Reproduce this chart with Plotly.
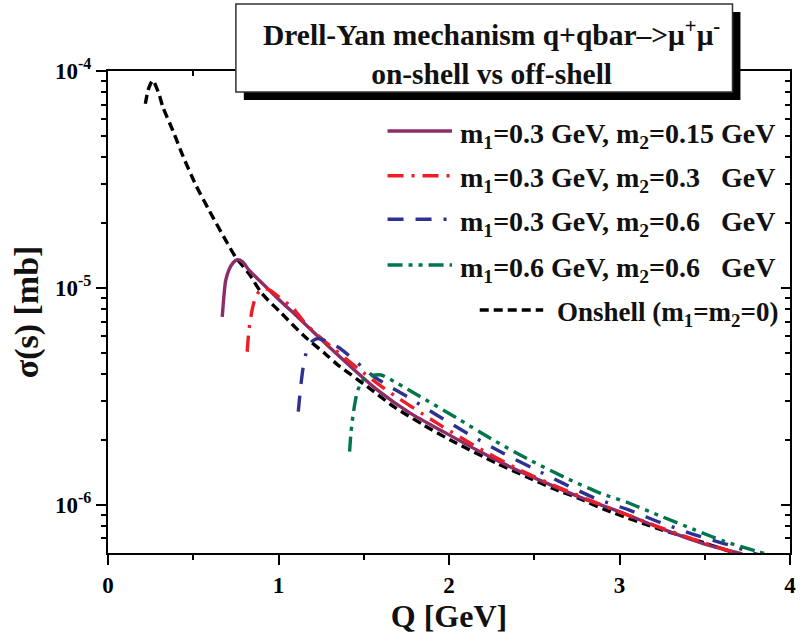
import math
import plotly.graph_objects as go

# ---------------- data ----------------
onshell_q = [0.219, 0.238, 0.263, 0.300, 0.322, 0.380, 0.438, 0.516, 0.593, 0.690, 0.748,
             0.826, 0.903, 1.019, 1.155, 1.272, 1.349, 1.523, 1.678, 1.853, 2.008, 2.279,
             2.453, 2.609, 2.763, 2.919, 3.248, 3.442, 3.674, 3.750]
onshell_s = [7.06e-5, 8.3e-5, 9.04e-5, 7.78e-5, 6.81e-5, 5.32e-5, 4.08e-5, 2.97e-5, 2.28e-5,
             1.66e-5, 1.39e-5, 1.165e-5, 9.42e-6, 7.62e-6, 5.95e-6, 4.99e-6, 4.41e-6, 3.50e-6,
             2.83e-6, 2.33e-6, 1.99e-6, 1.556e-6, 1.35e-6, 1.19e-6, 1.07e-6, 9.48e-7, 7.67e-7,
             6.9e-7, 6.01e-7, 5.8e-7]

m03_015_q = [0.670, 0.680, 0.690, 0.709, 0.735, 0.758, 0.790, 0.826, 0.903, 1.039, 1.097,
             1.291, 1.581, 1.775, 1.969, 2.163, 2.357, 2.551, 2.800, 3.000, 3.250, 3.500, 3.720]
m03_015_s = [7.35e-6, 9.2e-6, 1.08e-5, 1.21e-5, 1.31e-5, 1.35e-5, 1.32e-5, 1.21e-5, 1.054e-5,
             8.3e-6, 7.55e-6, 5.40e-6, 3.38e-6, 2.64e-6, 2.17e-6, 1.79e-6, 1.50e-6, 1.28e-6,
             1.06e-6, 9.3e-7, 7.75e-7, 6.6e-7, 5.95e-7]

m03_03_q = [0.816, 0.828, 0.845, 0.860, 0.884, 0.913, 0.950, 0.990, 1.087, 1.155, 1.252,
            1.465, 1.620, 1.930, 2.163, 2.395, 2.609, 2.919, 3.248, 3.500, 3.674, 3.750]
m03_03_s = [5.08e-6, 6.5e-6, 7.9e-6, 8.78e-6, 9.59e-6, 9.94e-6, 9.75e-6, 9.25e-6, 8.04e-6,
            6.9e-6, 5.85e-6, 4.26e-6, 3.44e-6, 2.38e-6, 1.85e-6, 1.475e-6, 1.236e-6, 9.82e-7,
            7.82e-7, 6.67e-7, 6.04e-7, 5.8e-7]

m03_06_q = [1.116, 1.130, 1.145, 1.160, 1.174, 1.200, 1.233, 1.349, 1.562, 1.756, 1.930,
            2.124, 2.318, 2.492, 2.667, 2.860, 3.054, 3.248, 3.442, 3.636, 3.771, 3.850]
m03_06_s = [2.69e-6, 3.5e-6, 4.33e-6, 4.95e-6, 5.35e-6, 5.7e-6, 5.85e-6, 5.34e-6, 3.89e-6,
            3.15e-6, 2.59e-6, 2.10e-6, 1.73e-6, 1.475e-6, 1.26e-6, 1.07e-6, 9.48e-7, 8.24e-7,
            7.28e-7, 6.55e-7, 6.04e-7, 5.8e-7]

m06_06_q = [1.417, 1.425, 1.436, 1.450, 1.465, 1.504, 1.550, 1.601, 1.698, 1.833, 2.047,
            2.260, 2.473, 2.686, 2.890, 3.054, 3.248, 3.442, 3.616, 3.810, 3.900]
m06_06_s = [1.76e-6, 2.15e-6, 2.55e-6, 3.0e-6, 3.38e-6, 3.83e-6, 3.95e-6, 3.97e-6, 3.63e-6,
            3.15e-6, 2.51e-6, 1.99e-6, 1.61e-6, 1.33e-6, 1.13e-6, 1.02e-6, 8.83e-7, 7.67e-7,
            6.78e-7, 6.10e-7, 5.8e-7]

legend_labels = [
    "m<sub>1</sub>=0.3 GeV, m<sub>2</sub>=0.15 GeV",
    "m<sub>1</sub>=0.3 GeV, m<sub>2</sub>=0.3\u00a0\u00a0\u00a0GeV",
    "m<sub>1</sub>=0.3 GeV, m<sub>2</sub>=0.6\u00a0\u00a0\u00a0GeV",
    "m<sub>1</sub>=0.6 GeV, m<sub>2</sub>=0.6\u00a0\u00a0\u00a0GeV",
    "Onshell (m<sub>1</sub>=m<sub>2</sub>=0)",
]
x_tickvals = [0, 1, 2, 3, 4]
x_ticktext = ["0", "1", "2", "3", "4"]
y_tickvals = [1e-6, 1e-5, 1e-4]
y_ticktext = ["10<sup>-6</sup>", "10<sup>-5</sup>", "10<sup>-4</sup>"]
y_minor = [7e-7, 8e-7, 9e-7] + [k * 1e-6 for k in range(2, 10)] + [k * 1e-5 for k in range(2, 10)]
title_text = "Drell-Yan mechanism q+qbar\u2013>\u03bc<sup>+</sup>\u03bc<sup>-</sup><br>on-shell vs off-shell"
x_title = "Q [GeV]"
y_title = "\u03c3(s) [mb]"

# ---------------- styling ----------------
FONT = "Liberation Serif"
C_PURPLE = "#8C2C68"
C_RED = "#EE1D25"
C_BLUE = "#2E3192"
C_GREEN = "#00764A"
C_BLACK = "#000000"
D_BLACK = "9px,5px"
D_RED = "16px,8px,3px,8px"
D_BLUE = "16px,12px,16px,12px,3px,12px"
D_GREEN = "15px,6px,4px,6px,4px,6px"
LW = 3.4

FIG_W, FIG_H = 802, 642
L, R, T, B = 108, 796, 71, 553
W, H = R - L, B - T


def px(x):
    return (x - L) / W


def py(y):
    return (B - y) / H


series = [
    (legend_labels[4], onshell_q, onshell_s, C_BLACK, D_BLACK),
    (legend_labels[0], m03_015_q, m03_015_s, C_PURPLE, "solid"),
    (legend_labels[1], m03_03_q, m03_03_s, C_RED, D_RED),
    (legend_labels[2], m03_06_q, m03_06_s, C_BLUE, D_BLUE),
    (legend_labels[3], m06_06_q, m06_06_s, C_GREEN, D_GREEN),
]

fig = go.Figure()
for name, q, s, col, dash in series:
    fig.add_trace(go.Scatter(x=q, y=s, mode="lines", name=name, showlegend=False,
                             line=dict(color=col, width=LW, dash=dash, shape="spline", smoothing=0.7)))

# helper (empty) traces so that the mirrored top / right axes are drawn
fig.add_trace(go.Scatter(x=[None], y=[None], xaxis="x2", yaxis="y", showlegend=False, hoverinfo="skip"))
fig.add_trace(go.Scatter(x=[None], y=[None], xaxis="x", yaxis="y2", showlegend=False, hoverinfo="skip"))

yrange = [math.log10(6.0e-7), -4]
tickfont = dict(family=FONT, size=23, color="black", weight="bold")

fig.update_layout(
    width=FIG_W, height=FIG_H, autosize=False,
    margin=dict(l=L, r=FIG_W - R, t=T, b=FIG_H - B),
    paper_bgcolor="white", plot_bgcolor="white",
    xaxis=dict(range=[0, 4], showgrid=False, zeroline=False, showline=True, linecolor="black",
               linewidth=2, ticks="outside", ticklen=10, tickwidth=2, tickcolor="black",
               tickmode="array", tickvals=x_tickvals, ticktext=x_ticktext, tickfont=tickfont,
               ticklabeloverflow="allow",
               minor=dict(ticks="outside", ticklen=5, tickwidth=2, tickcolor="black", dtick=0.5, tick0=0),
               title=dict(text=x_title, font=dict(family=FONT, size=32, color="#111111", weight="bold"),
                          standoff=6)),
    xaxis2=dict(range=[0, 4], overlaying="x", anchor="y", side="top", showgrid=False, zeroline=False,
                showline=True, linecolor="black", linewidth=2, ticks="inside", ticklen=6, tickwidth=1.5,
                tickcolor="black", tick0=0, dtick=1, showticklabels=False,
                minor=dict(ticks="inside", ticklen=5, tickwidth=1.5, tickcolor="black", dtick=0.5, tick0=0)),
    yaxis=dict(type="log", range=yrange, showgrid=False, zeroline=False, showline=True, linecolor="black",
               linewidth=2, ticks="outside", ticklen=10, tickwidth=2, tickcolor="black",
               tickmode="array", tickvals=y_tickvals, ticktext=y_ticktext, tickfont=tickfont,
               ticklabeloverflow="allow",
               minor=dict(ticks="outside", ticklen=5, tickwidth=2, tickcolor="black",
                          tickmode="array", tickvals=y_minor),
               title=dict(text=y_title, font=dict(family=FONT, size=34, color="#111111", weight="bold"),
                          standoff=6)),
    yaxis2=dict(type="log", range=yrange, overlaying="y", anchor="x", side="right", showgrid=False,
                zeroline=False, showline=True, linecolor="black", linewidth=2, ticks="inside",
                ticklen=9, tickwidth=1.5, tickcolor="black", tickmode="array", tickvals=y_tickvals,
                showticklabels=False,
                minor=dict(ticks="inside", ticklen=5, tickwidth=1.5, tickcolor="black",
                           tickmode="array", tickvals=y_minor)),
)

shapes = []
# title box with drop shadow
shapes.append(dict(type="rect", xref="paper", yref="paper", x0=px(245), x1=px(746), y0=py(100), y1=py(12),
                   fillcolor="black", line=dict(width=0), layer="above"))
shapes.append(dict(type="rect", xref="paper", yref="paper", x0=px(237), x1=px(738), y0=py(92), y1=py(4),
                   fillcolor="white", line=dict(color="#333333", width=1.5), layer="above"))

# legend samples
leg_rows = [131, 175.7, 219.3, 265, 310]
leg_style = [(C_PURPLE, "solid"), (C_RED, D_RED), (C_BLUE, D_BLUE), (C_GREEN, D_GREEN), (C_BLACK, D_BLACK)]
for i, (ry, (col, dash)) in enumerate(zip(leg_rows, leg_style)):
    x0, x1 = (390, 455) if i < 4 else (483, 547)
    shapes.append(dict(type="line", xref="paper", yref="paper", x0=px(x0), x1=px(x1), y0=py(ry), y1=py(ry),
                       line=dict(color=col, width=LW, dash=dash), layer="above"))
fig.update_layout(shapes=shapes)

annotations = [dict(xref="paper", yref="paper", x=px(495), y=py(53), xanchor="center", yanchor="middle",
                    text=title_text, showarrow=False, align="center",
                    font=dict(family=FONT, size=29.5, color="#111111", weight="bold"))]
for i, (ry, lab) in enumerate(zip(leg_rows, legend_labels)):
    if i < 4:
        annotations.append(dict(xref="paper", yref="paper", x=px(461), y=py(ry), xanchor="left",
                                yanchor="middle", text=lab, showarrow=False, yshift=-4,
                                font=dict(family=FONT, size=28, color="#111111", weight="bold")))
    else:
        annotations.append(dict(xref="paper", yref="paper", x=px(786), y=py(ry), xanchor="right",
                                yanchor="middle", text=lab, showarrow=False, yshift=-4,
                                font=dict(family=FONT, size=27, color="#111111", weight="bold")))
fig.update_layout(annotations=annotations)

fig.write_html("out.html")
